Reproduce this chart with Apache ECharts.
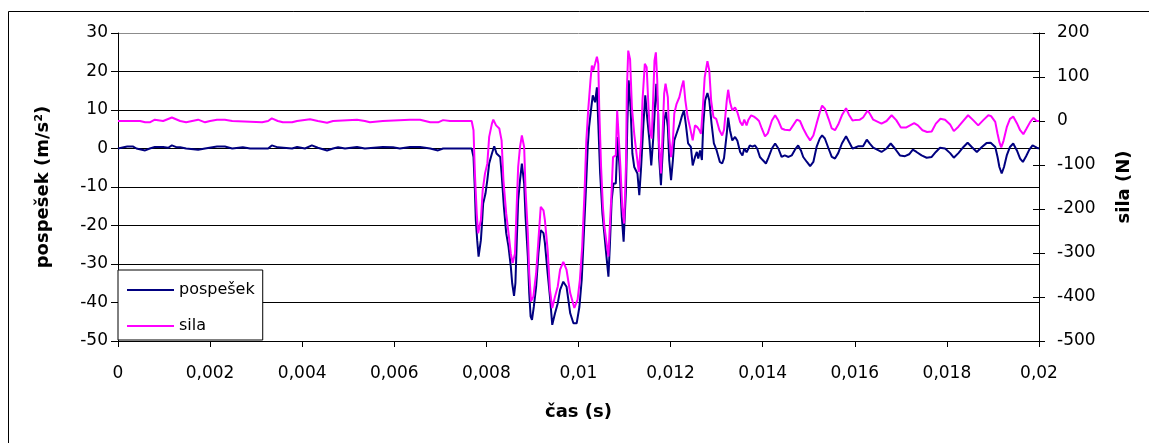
<!DOCTYPE html>
<html>
<head>
<meta charset="utf-8">
<script src="https://cdn.jsdelivr.net/npm/echarts@6/dist/echarts.min.js"></script>
<style>
  html, body { margin: 0; padding: 0; background: #fff; }
  #chart { width: 1149px; height: 443px; }
</style>
</head>
<body>
<div id="chart"></div>
<script>
// pospešek (m/s2) vs čas (s)
const accData = [
  [0, 0], [0.00020, 0.5], [0.00033, 0.5], [0.00040, 0], [0.00059, -0.5], [0.00069, 0], [0.00080, 0.4], [0.00098, 0.4],
  [0.00109, 0.2], [0.00117, 0.8], [0.00128, 0.3], [0.00135, 0.3], [0.00148, 0], [0.00174, -0.3], [0.00189, 0],
  [0.00215, 0.5], [0.00232, 0.5], [0.00248, 0], [0.00271, 0.3], [0.00287, 0], [0.00326, 0], [0.00334, 0.8],
  [0.00347, 0.3], [0.00378, 0], [0.00389, 0.4], [0.00406, 0], [0.00421, 0.8], [0.00434, 0.2], [0.00454, -0.5],
  [0.00467, 0], [0.00478, 0.3], [0.00493, 0], [0.00519, 0.4], [0.00536, 0], [0.00575, 0.4], [0.00597, 0.3],
  [0.00612, 0], [0.00634, 0.4], [0.00656, 0.4], [0.00678, 0], [0.00695, -0.5], [0.00706, 0], [0.00768, 0],
  [0.00772, -2.2], [0.00775, -10.8], [0.00777, -18.6], [0.00780, -23.8], [0.00783, -28.1], [0.00788, -23.8],
  [0.00790, -20.3], [0.00793, -14.3], [0.00798, -11.7], [0.00802, -8.2], [0.00806, -3.9], [0.00812, -1.3],
  [0.00817, 0.6], [0.00822, -1.3], [0.00830, -2.2], [0.00833, -6.5], [0.00838, -15.2], [0.00843, -22],
  [0.00848, -25.5], [0.00853, -30.7], [0.00856, -35], [0.00860, -38.3], [0.00863, -35], [0.00866, -23.8],
  [0.00869, -13.4], [0.00873, -8.2], [0.00877, -3.9], [0.00882, -9.1], [0.00885, -17.7], [0.00890, -28.1],
  [0.00893, -37.6], [0.00896, -43.6], [0.00899, -44.5], [0.00903, -41.1], [0.00908, -35.9], [0.00913, -27.2],
  [0.00918, -21.2], [0.00924, -22], [0.00927, -24.5], [0.00933, -32.4], [0.00938, -38.5], [0.00943, -45.8],
  [0.00949, -42.8], [0.00955, -40.2], [0.00960, -36.7], [0.00967, -34.6], [0.00974, -35.9], [0.00982, -42.8],
  [0.00989, -45.4], [0.00996, -45.4], [0.01002, -41.1], [0.01007, -34.1], [0.01011, -23.8], [0.01016, -10.8],
  [0.01020, 0.4], [0.01023, 5.6], [0.01027, 9.9], [0.01031, 13.8], [0.01036, 12], [0.01040, 15.9], [0.01043, 6.4],
  [0.01047, -6.5], [0.01052, -16.9], [0.01056, -22], [0.01060, -27.2], [0.01065, -33.3], [0.01068, -25.5],
  [0.01072, -13.4], [0.01076, -9.1], [0.01081, -9.1], [0.01085, 3], [0.01089, -4.8], [0.01094, -17.7],
  [0.01098, -24.2], [0.01103, -10.8], [0.01106, 6.4], [0.01109, 17.7], [0.01113, 10.7], [0.01117, -1.3],
  [0.01121, -4.8], [0.01128, -6.5], [0.01132, -12.1], [0.01136, -4.8], [0.01141, 6.4], [0.01145, 13.8],
  [0.01149, 8.2], [0.01154, 2.1], [0.01158, -4.4], [0.01162, 2.1], [0.01166, 10.7], [0.01169, 16.8], [0.01173, 9],
  [0.01175, -2.2], [0.01179, -9.5], [0.01183, -0.5], [0.01186, 7.3], [0.01190, 9.5], [0.01194, 5.6], [0.01197, -3],
  [0.01201, -8.2], [0.01205, -3], [0.01208, 2.1], [0.01213, 3.9], [0.01219, 6], [0.01224, 8.2], [0.01229, 9.9],
  [0.01233, 6.4], [0.01238, 1.3], [0.01244, 0.4], [0.01248, -4.4], [0.01253, -2.2], [0.01257, -0.9],
  [0.01260, -2.6], [0.01264, -0.5], [0.01268, -3], [0.01271, 6.4], [0.01275, 12.5], [0.01280, 14.4],
  [0.01284, 12.5], [0.01289, 6.4], [0.01294, 1.3], [0.01300, -0.5], [0.01307, -3.5], [0.01312, -3.9],
  [0.01316, -2.5], [0.01322, 3.9], [0.01325, 8], [0.01329, 4.7], [0.01334, 2.1], [0.01340, 3], [0.01345, 2],
  [0.01351, -0.9], [0.01356, -1.8], [0.01360, 0], [0.01365, -1], [0.01369, 0], [0.01372, 0.8], [0.01378, 0.5],
  [0.01383, 0.8], [0.01388, 0], [0.01394, -2.2], [0.01400, -3], [0.01407, -3.9], [0.01412, -2.5], [0.01420, 0],
  [0.01427, 1.3], [0.01434, 0], [0.01441, -2.2], [0.01448, -1.8], [0.01456, -2.2], [0.01463, -1.8],
  [0.01470, -0.3], [0.01477, 0.8], [0.01483, -0.5], [0.01488, -2.2], [0.01496, -3.5], [0.01503, -4.6],
  [0.01510, -3.5], [0.01517, 0.4], [0.01524, 2.6], [0.01529, 3.4], [0.01535, 2.6], [0.01543, 0], [0.01550, -2.2],
  [0.01557, -2.6], [0.01564, -1.2], [0.01572, 1.3], [0.01581, 3.2], [0.01587, 1.8], [0.01595, 0], [0.01600, 0.2],
  [0.01608, 0.6], [0.01618, 0.6], [0.01626, 2.3], [0.01633, 1.2], [0.01640, 0.2], [0.01644, 0], [0.01658, -0.9],
  [0.01669, 0], [0.01678, 1.3], [0.01687, 0], [0.01698, -1.8], [0.01709, -2], [0.01718, -1.5], [0.01726, -0.3],
  [0.01734, -0.9], [0.01745, -1.8], [0.01756, -2.4], [0.01767, -2.2], [0.01776, -0.9], [0.01785, 0.2],
  [0.01796, 0], [0.01807, -1.2], [0.01815, -2.4], [0.01825, -1.2], [0.01836, 0.4], [0.01845, 1.5],
  [0.01854, 0.4], [0.01865, -0.9], [0.01876, 0.4], [0.01886, 1.4], [0.01895, 1.5], [0.01905, 0.4],
  [0.01910, -2.2], [0.01914, -4.8], [0.01919, -6.5], [0.01924, -4.8], [0.01930, -1.8], [0.01937, 0.4],
  [0.01944, 1.3], [0.01952, -0.5], [0.01959, -2.6], [0.01965, -3.5], [0.01972, -2], [0.01979, -0.3],
  [0.01986, 0.8], [0.01995, 0.2], [0.02, 0]
];

// sila (N) vs čas (s)
const silaData = [
  [0, 0], [0.00048, 0], [0.00059, -3], [0.00069, -3], [0.00080, 3], [0.00098, 0], [0.00117, 8], [0.00135, 0],
  [0.00148, -3], [0.00161, 0], [0.00174, 3], [0.00189, -3], [0.00200, 0], [0.00215, 3], [0.00232, 3], [0.00248, 0],
  [0.00313, -3], [0.00326, 0], [0.00334, 6], [0.00347, 0], [0.00358, -3], [0.00378, -3], [0.00389, 0],
  [0.00417, 4], [0.00434, 0], [0.00454, -4], [0.00467, 0], [0.00519, 3], [0.00536, 0], [0.00547, -3], [0.00575, 0],
  [0.00634, 3], [0.00656, 3], [0.00678, -3], [0.00695, -3], [0.00706, 2], [0.00721, 0], [0.00768, 0],
  [0.00772, -21], [0.00775, -119], [0.00779, -210], [0.00782, -255], [0.00788, -225], [0.00792, -157],
  [0.00797, -119], [0.00802, -97], [0.00806, -36], [0.00812, -6], [0.00815, 3], [0.00821, -10], [0.00828, -17],
  [0.00833, -44], [0.00837, -135], [0.00843, -210], [0.00848, -255], [0.00853, -301], [0.00857, -323],
  [0.00862, -301], [0.00866, -187], [0.00869, -104], [0.00873, -59], [0.00877, -33], [0.00882, -59],
  [0.00885, -157], [0.00890, -255], [0.00893, -346], [0.00897, -410], [0.00902, -399], [0.00908, -346],
  [0.00913, -270], [0.00918, -195], [0.00924, -203], [0.00927, -225], [0.00933, -293], [0.00938, -384],
  [0.00943, -425], [0.00949, -399], [0.00955, -376], [0.00960, -338], [0.00967, -320], [0.00974, -338],
  [0.00982, -391], [0.00991, -425], [0.00998, -406], [0.01003, -361], [0.01008, -286], [0.01013, -165],
  [0.01017, -44], [0.01021, 24], [0.01026, 92], [0.01029, 126], [0.01032, 115], [0.01036, 130], [0.01040, 146],
  [0.01043, 130], [0.01045, 31], [0.01049, -104], [0.01053, -195], [0.01056, -237], [0.01060, -270],
  [0.01065, -308], [0.01068, -240], [0.01072, -157], [0.01075, -82], [0.01081, -78], [0.01084, 24], [0.01088, 24],
  [0.01091, -104], [0.01095, -195], [0.01099, -233], [0.01103, -104], [0.01105, 69], [0.01108, 160],
  [0.01112, 140], [0.01116, 31], [0.01121, -29], [0.01126, -74], [0.01131, -116], [0.01136, -44], [0.01139, 47],
  [0.01144, 130], [0.01148, 122], [0.01152, 31], [0.01155, -21], [0.01159, -40], [0.01162, 47], [0.01165, 137],
  [0.01168, 156], [0.01171, 92], [0.01174, -36], [0.01179, -119], [0.01182, -44], [0.01186, 62], [0.01189, 85],
  [0.01194, 54], [0.01197, -36], [0.01201, -82], [0.01205, -44], [0.01208, 17], [0.01213, 39], [0.01219, 54],
  [0.01224, 77], [0.01228, 92], [0.01232, 47], [0.01237, 9], [0.01242, -14], [0.01248, -44], [0.01253, -10],
  [0.01258, -14], [0.01262, -20], [0.01266, -29], [0.01270, 31], [0.01274, 99], [0.01280, 136], [0.01284, 115],
  [0.01288, 47], [0.01293, 9], [0.01299, 5], [0.01306, -21], [0.01312, -33], [0.01316, -20], [0.01322, 47],
  [0.01325, 71], [0.01329, 43], [0.01334, 24], [0.01340, 31], [0.01345, 20], [0.01351, -2], [0.01356, -10],
  [0.01360, 3], [0.01365, -10], [0.01369, 3], [0.01375, 13], [0.01381, 10], [0.01387, 5], [0.01392, 0],
  [0.01398, -17], [0.01405, -35], [0.01411, -28], [0.01420, 1], [0.01427, 13], [0.01434, 1], [0.01441, -17],
  [0.01448, -20], [0.01459, -21], [0.01466, -10], [0.01474, 3], [0.01481, 0], [0.01488, -17], [0.01496, -33],
  [0.01503, -44], [0.01510, -33], [0.01517, -6], [0.01524, 20], [0.01529, 35], [0.01535, 28], [0.01543, 5],
  [0.01550, -17], [0.01557, -21], [0.01564, -8], [0.01572, 13], [0.01581, 29], [0.01587, 15], [0.01595, 1],
  [0.01600, 2], [0.01611, 3], [0.01618, 8], [0.01628, 24], [0.01633, 16], [0.01640, 3], [0.01644, 1],
  [0.01658, -6], [0.01669, 0], [0.01680, 13], [0.01690, 2], [0.01700, -15], [0.01711, -15], [0.01720, -10],
  [0.01729, -5], [0.01737, -10], [0.01747, -21], [0.01757, -25], [0.01767, -24], [0.01776, -6], [0.01786, 5],
  [0.01796, 3], [0.01807, -8], [0.01815, -23], [0.01825, -13], [0.01836, 1], [0.01846, 13], [0.01857, 2],
  [0.01868, -10], [0.01879, 2], [0.01890, 13], [0.01896, 11], [0.01905, -2], [0.01910, -29], [0.01914, -48],
  [0.01918, -60], [0.01923, -45], [0.01930, -14], [0.01937, 5], [0.01944, 10], [0.01952, -5], [0.01959, -21],
  [0.01966, -30], [0.01973, -17], [0.01981, -2], [0.01988, 7], [0.01995, 0], [0.02, 0]
];

const xRange = [0, 0.02, 0.002];
const accRange = [-50, 30, 10];
const silaRange = [-500, 200, 100];
const seriesNames = ['pospešek', 'sila'];

const FONT = '"DejaVu Sans", sans-serif';
const labelStyle = { color: '#000', fontSize: 17, fontFamily: FONT };
const nameStyle = { color: '#000', fontSize: 18, fontWeight: 'bold', fontFamily: FONT };
const fmtComma = (v) => String(+(+v).toFixed(4)).replace('.', ',');

// grid lines black, top border of the plot area grey
const splitColors = ['#000', '#000', '#000', '#000', '#000', '#000', '#000', '#000', '#8c8c8c'];
const plotBox = { left: 118, right: 110, top: 33, bottom: 102, containLabel: false, outerBoundsMode: 'none' };
const plotWidth = 1149 - plotBox.left - plotBox.right;

const chart = echarts.init(document.getElementById('chart'), null, { renderer: 'canvas' });
chart.setOption({
  animation: false,
  backgroundColor: '#fff',
  graphic: [{
    type: 'rect', z: -10, silent: true,
    shape: { x: 8.5, y: 11.5, width: 1160, height: 450 },
    style: { fill: 'none', stroke: '#000', lineWidth: 1 }
  }],
  // second grid on the same box only carries the inner half of the right axis' crossing ticks
  grid: [Object.assign({}, plotBox), Object.assign({}, plotBox)],
  legend: {
    data: seriesNames,
    orient: 'vertical',
    left: 118, top: 270,
    icon: 'rect', itemWidth: 47, itemHeight: 2, itemGap: 20,
    padding: [12, 8, 6, 9],
    backgroundColor: '#fff', borderColor: '#000', borderWidth: 1, borderRadius: 0,
    textStyle: { color: '#000', fontSize: 16, fontFamily: FONT, width: 62 }
  },
  xAxis: [
    {
      type: 'value', gridIndex: 0, min: xRange[0], max: xRange[1], interval: xRange[2],
      name: 'čas (s)', nameLocation: 'middle', nameGap: 62, nameTextStyle: nameStyle,
      axisLine: { show: true, onZero: false, lineStyle: { color: '#000', width: 1 } },
      axisTick: { show: true, inside: false, length: 6, lineStyle: { color: '#000' } },
      axisLabel: Object.assign({ margin: 24, formatter: fmtComma, showMinLabel: true, showMaxLabel: true }, labelStyle),
      splitLine: { show: false }
    },
    {
      type: 'value', gridIndex: 1, min: xRange[0], max: xRange[1], show: false
    }
  ],
  yAxis: [
    {
      type: 'value', gridIndex: 0, position: 'left', min: accRange[0], max: accRange[1], interval: accRange[2],
      name: 'pospešek (m/s²)', nameLocation: 'middle', nameGap: 66, nameRotate: 90, nameTextStyle: nameStyle,
      axisLine: { show: true, onZero: false, lineStyle: { color: '#000', width: 1 } },
      axisTick: { show: true, inside: false, length: 7, lineStyle: { color: '#000' } },
      axisLabel: Object.assign({ margin: 10, showMinLabel: true, showMaxLabel: true }, labelStyle),
      splitLine: { show: true, lineStyle: { color: splitColors, width: 1 } }
    },
    {
      type: 'value', gridIndex: 0, position: 'right', min: silaRange[0], max: silaRange[1], interval: silaRange[2],
      name: 'sila (N)', nameLocation: 'middle', nameGap: 76, nameRotate: 90, nameTextStyle: nameStyle,
      axisLine: { show: true, onZero: false, lineStyle: { color: '#000', width: 1 } },
      axisTick: { show: true, inside: false, length: 6, lineStyle: { color: '#000' } },
      axisLabel: Object.assign({ margin: 18, showMinLabel: true, showMaxLabel: true }, labelStyle),
      splitLine: { show: false }
    },
    {
      // left-type axis shifted onto the right edge: its outward ticks point into the plot
      type: 'value', gridIndex: 1, position: 'left', offset: -plotWidth,
      min: silaRange[0], max: silaRange[1], interval: silaRange[2],
      axisLine: { show: false },
      axisTick: { show: true, inside: false, length: 6, lineStyle: { color: '#000' } },
      axisLabel: { show: false },
      splitLine: { show: false }
    }
  ],
  series: [
    {
      name: seriesNames[0], type: 'line', xAxisIndex: 0, yAxisIndex: 0, data: accData,
      symbol: 'none', showSymbol: false, color: '#000080',
      lineStyle: { color: '#000080', width: 2 }
    },
    {
      name: seriesNames[1], type: 'line', xAxisIndex: 0, yAxisIndex: 1, data: silaData,
      symbol: 'none', showSymbol: false, color: '#ff00ff',
      lineStyle: { color: '#ff00ff', width: 2 }
    }
  ]
});
</script>
</body>
</html>
